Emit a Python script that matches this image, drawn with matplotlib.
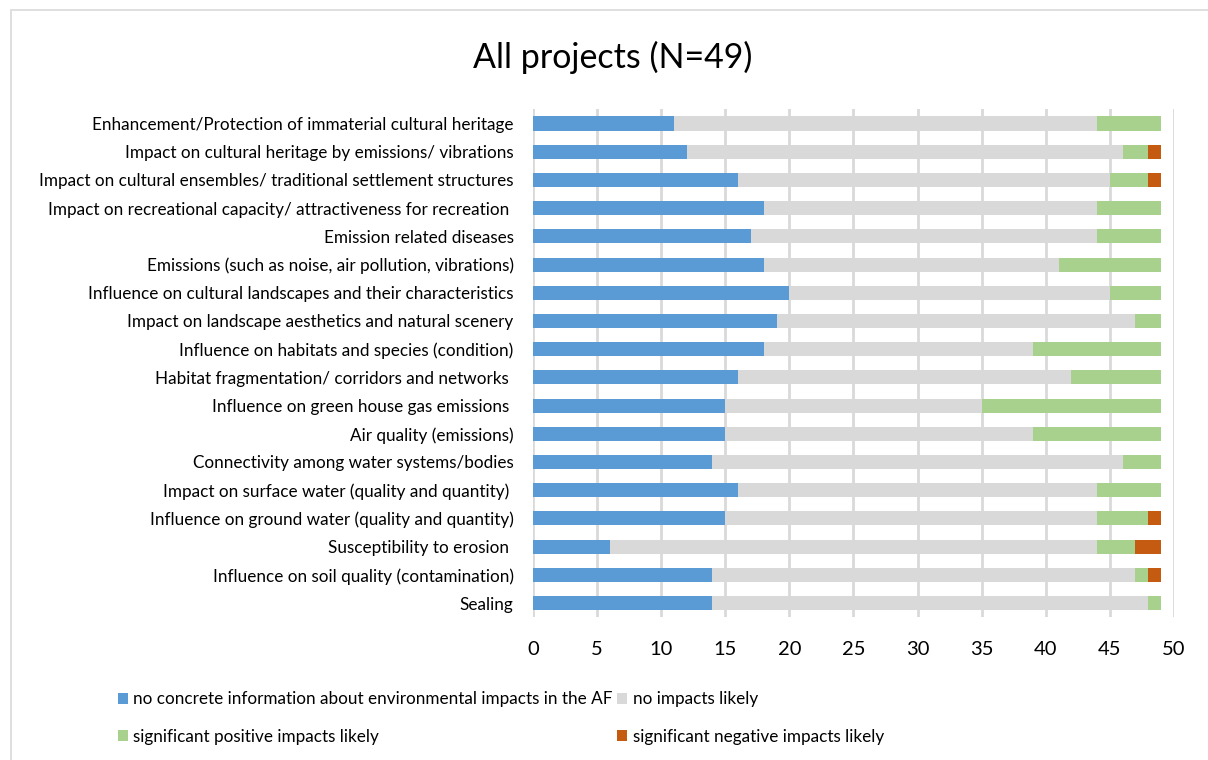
import numpy as np
import matplotlib.pyplot as plt
from matplotlib.patches import Rectangle

plt.rcParams['font.family'] = ['Lato', 'DejaVu Sans']

categories = [
    'Enhancement/Protection of immaterial cultural heritage',
    'Impact on cultural heritage by emissions/ vibrations',
    'Impact on cultural ensembles/ traditional settlement structures',
    'Impact on recreational capacity/ attractiveness for recreation ',
    'Emission related diseases',
    'Emissions (such as noise, air pollution, vibrations)',
    'Influence on cultural landscapes and their characteristics',
    'Impact on landscape aesthetics and natural scenery',
    'Influence on habitats and species (condition)',
    'Habitat fragmentation/ corridors and networks ',
    'Influence on green house gas emissions ',
    'Air quality (emissions)',
    'Connectivity among water systems/bodies',
    'Impact on surface water (quality and quantity) ',
    'Influence on ground water (quality and quantity)',
    'Susceptibility to erosion ',
    'Influence on soil quality (contamination)',
    'Sealing',
]

no_info = [11, 12, 16, 18, 17, 18, 20, 19, 18, 16, 15, 15, 14, 16, 15, 6, 14, 14]
no_impact = [33, 34, 29, 26, 27, 23, 25, 28, 21, 26, 20, 24, 32, 28, 29, 38, 33, 34]
positive = [5, 2, 3, 5, 5, 8, 4, 2, 10, 7, 14, 10, 3, 5, 4, 3, 1, 1]
negative = [0, 1, 1, 0, 0, 0, 0, 0, 0, 0, 0, 0, 0, 0, 1, 2, 1, 0]

series = [
    ('no concrete information about environmental impacts in the AF', no_info, '#5B9BD5'),
    ('no impacts likely', no_impact, '#D9D9D9'),
    ('significant positive impacts likely', positive, '#A9D18E'),
    ('significant negative impacts likely', negative, '#C55A11'),
]

fig = plt.figure(figsize=(12.08, 7.6), dpi=100)
ax = fig.add_axes([0.4412, 0.188, 0.5306, 0.668])

y = np.arange(len(categories))
left = np.zeros(len(categories))
handles = []
for label, vals, color in series:
    vals = np.array(vals, dtype=float)
    h = ax.barh(y, vals, left=left, height=0.5, color=color, label=label, zorder=3)
    handles.append(h)
    left += vals

ax.set_ylim(len(categories) - 0.5, -0.5)
ax.set_xlim(0, 50)
ax.set_xticks(range(0, 51, 5))
ax.set_yticks(y)
ax.set_yticklabels(categories, fontsize=12.3, color='#000000')
ax.tick_params(axis='x', labelsize=14.5, length=0, pad=17)
ax.tick_params(axis='y', length=0, pad=14)
ax.grid(axis='x', color='#D9D9D9', linewidth=2, zorder=0)
for s in ax.spines.values():
    s.set_visible(False)

fig.text(0.507, 0.925, 'All projects (N=49)', ha='center', va='center', fontsize=24.5)

# legend reads row by row, so reorder for matplotlib's column filling
order = [0, 2, 1, 3]
fig.legend(handles=[handles[i] for i in order], loc='lower left', bbox_to_anchor=(0.085, 0.0),
           ncol=2, frameon=False, fontsize=12.3, handlelength=0.6, handleheight=0.6,
           handletextpad=0.3, columnspacing=0.25, labelspacing=1.25)

# light frame around the chart area
fig.add_artist(Rectangle((0.009, -0.01), 1.2, 0.997, transform=fig.transFigure,
                         fill=False, edgecolor='#D9D9D9', linewidth=1.2))

fig.savefig('out.png', dpi=100)
